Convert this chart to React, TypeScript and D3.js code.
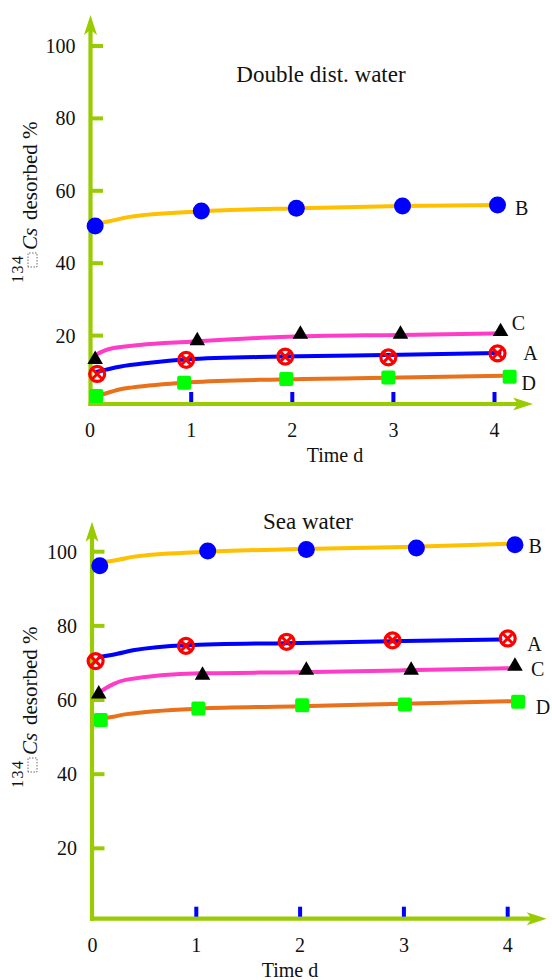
import React from 'react'
import * as d3 from 'd3'

// shared ticks
const timeTicks = [0, 1, 2, 3, 4]
const valueTicks = [20, 40, 60, 80, 100]
const seriesNames = ['B', 'C', 'A', 'D']

// Double dist. water - measured points
const dwTimeB = [0.05, 1.1, 2.04, 3.09, 4.03]
const dwB = [50.3, 54.4, 55.2, 55.8, 56.1]
const dwTimeC = [0.05, 1.06, 2.08, 3.07, 4.06]
const dwC = [13.4, 18.6, 20.4, 20.4, 21.1]
const dwTimeA = [0.07, 0.95, 1.93, 2.95, 4.03]
const dwA = [9.4, 13.3, 14.2, 14.0, 15.1]
const dwTimeD = [0.06, 0.93, 1.94, 2.95, 4.15]
const dwD = [3.3, 7.0, 8.0, 8.4, 8.6]

// Double dist. water - fitted curves
const dwCurveTimeB = [0.1, 0.24, 0.39, 1.09, 2.08, 3.07, 4.05]
const dwCurveB = [51.1, 51.9, 52.8, 54.3, 55.2, 55.8, 56.1]
const dwCurveTimeC = [0.06, 0.19, 0.49, 0.99, 1.88, 3.07, 4.02]
const dwCurveC = [14.8, 16.3, 17.4, 18.3, 19.6, 20.2, 20.6]
const dwCurveTimeA = [0.07, 0.29, 0.59, 0.95, 1.88, 3.07, 4.05]
const dwCurveA = [10.0, 11.4, 12.5, 13.4, 14.2, 14.7, 15.2]
const dwCurveTimeD = [0.13, 0.3, 0.42, 0.99, 1.88, 3.07, 4.12]
const dwCurveD = [3.8, 5.2, 5.7, 7.1, 7.9, 8.4, 8.9]

// Sea water - measured points
const swTimeB = [0.07, 1.11, 2.06, 3.12, 4.07]
const swB = [96.2, 100.2, 100.6, 101.0, 101.9]
const swTimeC = [0.06, 1.06, 2.06, 3.07, 4.07]
const swC = [61.6, 66.7, 68.0, 68.0, 69.1]
const swTimeA = [0.03, 0.9, 1.87, 2.89, 4.0]
const swA = [70.5, 74.6, 75.7, 76.1, 76.6]
const swTimeD = [0.08, 1.02, 2.02, 3.01, 4.1]
const swD = [54.6, 57.7, 58.6, 58.8, 59.5]

// Sea water - fitted curves
const swCurveTimeB = [0.07, 0.26, 0.39, 1.04, 2.0, 3.0, 4.1]
const swCurveB = [97.0, 97.9, 98.6, 99.9, 100.7, 101.3, 102.2]
const swCurveTimeC = [0.1, 0.2, 0.33, 1.04, 2.0, 3.0, 4.02]
const swCurveC = [62.7, 64.3, 65.5, 67.2, 67.5, 68.0, 68.6]
const swCurveTimeA = [0.07, 0.24, 0.39, 0.9, 2.0, 3.0, 3.93]
const swCurveA = [71.6, 72.5, 73.4, 74.8, 75.4, 75.9, 76.3]
const swCurveTimeD = [0.14, 0.2, 0.33, 1.04, 2.0, 3.0, 4.05]
const swCurveD = [55.2, 55.5, 56.2, 57.7, 58.3, 59.0, 59.7]

const AXIS = '#99cc00'
const FONT = 'Liberation Serif, DejaVu Serif, serif'

const style: any = {
  B: { color: '#ffc000', shape: 'circle' },
  C: { color: '#ff3cc8', shape: 'triangle' },
  A: { color: '#0000ff', shape: 'otimes' },
  D: { color: '#e8711a', shape: 'square' },
}

function Marker({ shape, x, y }: any) {
  if (shape === 'circle') return <circle cx={x} cy={y} r={8.5} fill="#0000ff" />
  if (shape === 'square') return <rect x={x - 7} y={y - 7} width={14} height={14} rx={2} fill="#00ff00" />
  if (shape === 'triangle') {
    const tri = d3.symbol().type(d3.symbolTriangle).size(105)()
    return <path d={tri as string} transform={`translate(${x},${y})`} fill="#000" />
  }
  // circle with a cross
  return (
    <g transform={`translate(${x},${y})`} stroke="#ff0000" fill="none">
      <circle r={7.5} strokeWidth={3.2} />
      <line x1={-4.5} y1={-4.5} x2={4.5} y2={4.5} strokeWidth={3} />
      <line x1={-4.5} y1={4.5} x2={4.5} y2={-4.5} strokeWidth={3} />
    </g>
  )
}

function Panel(props: any) {
  const { p, series } = props
  const x = d3.scaleLinear().domain([0, 4]).range(p.xRange)
  const y = d3.scaleLinear().domain([0, 100]).range(p.yRange)
  const line = d3.line<[number, number]>()
    .x(d => x(d[0]))
    .y(d => y(d[1]))
    .curve(d3.curveMonotoneX)

  return (
    <g fill="#111">
      <text x={p.titleX} y={p.titleY} fontSize={23} textAnchor="middle">{p.title}</text>

      {/* y axis with arrow */}
      <line x1={p.axisX} x2={p.axisX} y1={p.axisY + 2} y2={p.yTip + 12} stroke={AXIS} strokeWidth={4.2} />
      <path d={`M${p.axisX},${p.yTip} L${p.axisX + 6.5},${p.yTip + 20} L${p.axisX},${p.yTip + 15} L${p.axisX - 6.5},${p.yTip + 20} Z`} fill={AXIS} />
      {valueTicks.map(v => (
        <g key={v}>
          <line x1={p.axisX} x2={p.axisX + 12.5} y1={y(v)} y2={y(v)} stroke={AXIS} strokeWidth={4} />
          <text x={p.axisX - 15} y={y(v)} dy="0.35em" fontSize={20} textAnchor="end">{v}</text>
        </g>
      ))}

      {/* x axis with arrow */}
      <line x1={p.axisX - 2} x2={p.xTip - 12} y1={p.axisY} y2={p.axisY} stroke={AXIS} strokeWidth={4.2} />
      <path d={`M${p.xTip},${p.axisY} L${p.xTip - 20},${p.axisY - 6.5} L${p.xTip - 15},${p.axisY} L${p.xTip - 20},${p.axisY + 6.5} Z`} fill={AXIS} />
      {timeTicks.map(t => (
        <g key={t}>
          {t > 0 && <rect x={x(t) - 2} y={p.axisY - 12} width={4} height={10} fill="#0000ff" />}
          <text x={x(t)} y={p.axisY + 33} fontSize={20} textAnchor="middle">{t}</text>
        </g>
      ))}
      <text x={p.timeX} y={p.axisY + 58} fontSize={20} textAnchor="middle">Time d</text>

      {/* y axis title */}
      <g transform={`translate(37,${p.labelBase}) rotate(-90)`}>
        <text x={0} y={-14} fontSize={16} letterSpacing={1.5}>134</text>
        <rect x={16} y={-9} width={14} height={9} fill="none" stroke="#444" strokeWidth={0.8} strokeDasharray="1.5,1.5" />
        <text x={33} y={0} fontSize={21} fontStyle="italic">Cs</text>
        <text x={63} y={0} fontSize={21}>desorbed %</text>
      </g>

      {/* fitted curves */}
      {series.map((s: any) => (
        <path key={'c' + s.key} d={line(d3.zip(s.curveTime, s.curve) as any) as string}
          fill="none" stroke={style[s.key].color} strokeWidth={4} strokeLinecap="round" />
      ))}

      {/* measured points */}
      {series.map((s: any) => (
        <g key={'m' + s.key}>
          {s.time.map((t: number, i: number) => (
            <Marker key={i} shape={style[s.key].shape} x={x(t)} y={y(s.value[i])} />
          ))}
        </g>
      ))}

      {/* series letters */}
      {series.map((s: any) => {
        const n = s.curve.length - 1
        return (
          <text key={'l' + s.key} x={x(s.curveTime[n]) + s.dx} y={y(s.curve[n]) + s.dy}
            dy="0.35em" fontSize={20} textAnchor="middle">{s.key}</text>
        )
      })}
    </g>
  )
}

const topPanel = {
  title: 'Double dist. water', titleX: 321, titleY: 82,
  xRange: [90.1, 494.5], yRange: [408, 46],
  axisX: 90.5, axisY: 404, yTip: 15, xTip: 533,
  timeX: 335, labelBase: 283,
}
const bottomPanel = {
  title: 'Sea water', titleX: 308, titleY: 529,
  xRange: [92.5, 507.7], yRange: [922.5, 551.7],
  axisX: 92, axisY: 918.7, yTip: 521.7, xTip: 546.7,
  timeX: 290, labelBase: 788,
}

const dwSeries = [
  { key: 'B', time: dwTimeB, value: dwB, curveTime: dwCurveTimeB, curve: dwCurveB, dx: 22, dy: 3 },
  { key: 'C', time: dwTimeC, value: dwC, curveTime: dwCurveTimeC, curve: dwCurveC, dx: 22, dy: -10 },
  { key: 'A', time: dwTimeA, value: dwA, curveTime: dwCurveTimeA, curve: dwCurveA, dx: 31, dy: 0 },
  { key: 'D', time: dwTimeD, value: dwD, curveTime: dwCurveTimeD, curve: dwCurveD, dx: 22, dy: 7 },
]
const swSeries = [
  { key: 'B', time: swTimeB, value: swB, curveTime: swCurveTimeB, curve: swCurveB, dx: 17, dy: 2 },
  { key: 'C', time: swTimeC, value: swC, curveTime: swCurveTimeC, curve: swCurveC, dx: 28, dy: 1 },
  { key: 'A', time: swTimeA, value: swA, curveTime: swCurveTimeA, curve: swCurveA, dx: 34, dy: 4 },
  { key: 'D', time: swTimeD, value: swD, curveTime: swCurveTimeD, curve: swCurveD, dx: 30, dy: 6 },
]

export default function App() {
  const order = (arr: any[]) => seriesNames.map(k => arr.find(s => s.key === k))
  return (
    <svg width={552} height={980}
      style={{ position: 'absolute', left: 0, top: 0, background: '#fff', fontFamily: FONT }}>
      <Panel p={topPanel} series={order(dwSeries)} />
      <Panel p={bottomPanel} series={order(swSeries)} />
    </svg>
  )
}
